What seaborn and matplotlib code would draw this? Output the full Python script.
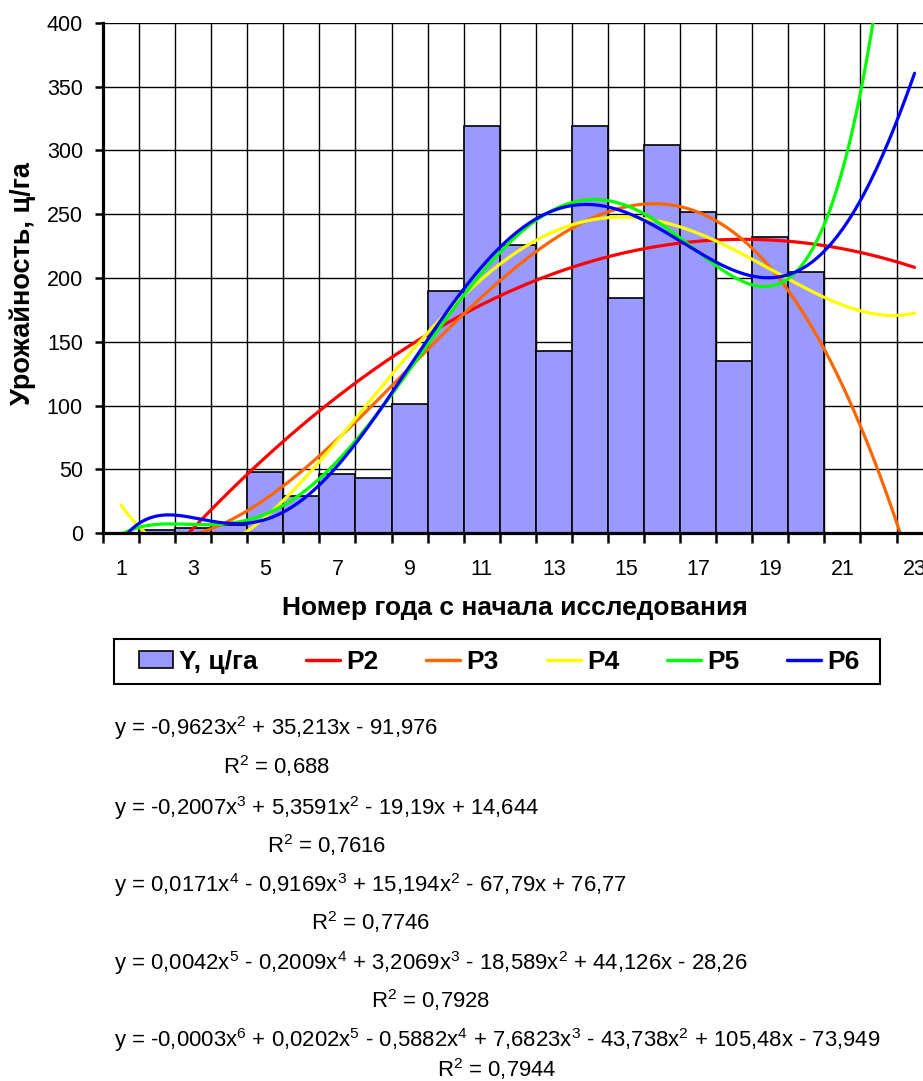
import numpy as np
import pandas as pd
import matplotlib
matplotlib.use("Agg")
import matplotlib.pyplot as plt
from matplotlib.patches import Patch, Rectangle
from matplotlib.lines import Line2D
import seaborn as sns

# ---- data ----
years = [1, 2, 3, 4, 5, 6, 7, 8, 9, 10, 11, 12, 13, 14, 15, 16, 17, 18, 19, 20]
yield_cga = [0, 2, 4, 6, 48, 29, 46, 43, 101, 190, 319, 226, 143, 319, 184, 304, 252, 135, 232, 205]
degrees = [2, 3, 4, 5, 6]
trend_names = ["P2", "P3", "P4", "P5", "P6"]
trend_colors = ["#FF0000", "#FF6600", "#FFFF00", "#00FF00", "#0000FF"]
forecast_end = 23
x_ticklabels = ["1", "3", "5", "7", "9", "11", "13", "15", "17", "19", "21", "23"]
y_ticks = [0, 50, 100, 150, 200, 250, 300, 350, 400]
equations = [
    "y = -0,9623x$^{2}$ + 35,213x - 91,976",
    "y = -0,2007x$^{3}$ + 5,3591x$^{2}$ - 19,19x + 14,644",
    "y = 0,0171x$^{4}$ - 0,9169x$^{3}$ + 15,194x$^{2}$ - 67,79x + 76,77",
    "y = 0,0042x$^{5}$ - 0,2009x$^{4}$ + 3,2069x$^{3}$ - 18,589x$^{2}$ + 44,126x - 28,26",
    "y = -0,0003x$^{6}$ + 0,0202x$^{5}$ - 0,5882x$^{4}$ + 7,6823x$^{3}$ - 43,738x$^{2}$ + 105,48x - 73,949",
]
r2_texts = ["R$^{2}$ = 0,688", "R$^{2}$ = 0,7616", "R$^{2}$ = 0,7746", "R$^{2}$ = 0,7928", "R$^{2}$ = 0,7944"]
bar_label = "Y, ц/га"
xlabel = "Номер года с начала исследования"
ylabel = "Урожайность, ц/га"

# ---- style ----
sns.set_theme(style="white")
plt.rcParams["font.family"] = ["Liberation Sans", "DejaVu Sans"]
plt.rcParams["text.color"] = "black"
plt.rcParams["axes.labelcolor"] = "black"
plt.rcParams["mathtext.fontset"] = "custom"
plt.rcParams["mathtext.rm"] = "Liberation Sans"
plt.rcParams["mathtext.it"] = "Liberation Sans"
plt.rcParams["mathtext.bf"] = "Liberation Sans:bold"
plt.rcParams["mathtext.default"] = "regular"

W, H = 923, 1081
fig = plt.figure(figsize=(W / 100, H / 100), dpi=100)
fig.patch.set_facecolor("white")

def fx(px):
    return px / W

def fy(py):
    return 1 - py / H

left_px, right_px, top_px, bottom_px = 103, 103 + 23 * 36.07, 23, 533
ax = fig.add_axes([fx(left_px), fy(bottom_px), (right_px - left_px) / W, (bottom_px - top_px) / H])
ax.set_facecolor("white")

df = pd.DataFrame({"year": years, "y": yield_cga})
sns.barplot(data=df, x="year", y="y", native_scale=True, width=1.0, color="#9999FF",
            saturation=1, edgecolor="black", linewidth=1.2, errorbar=None, ax=ax, zorder=2)

xs = np.linspace(1, forecast_end, 400)
for deg, name, col in zip(degrees, trend_names, trend_colors):
    coef = np.polyfit(np.array(years, float), np.array(yield_cga, float), deg)
    ys = np.polyval(coef, xs)
    sns.lineplot(x=xs, y=ys, color=col, linewidth=2.3, ax=ax, legend=False, sort=False, zorder=3)

ax.set_xlim(0.5, 23.5)
ax.set_ylim(0, 400)

# grid: vertical at category boundaries, horizontal every 50
ax.set_xticks(np.arange(0.5, 23.6, 1.0))
ax.set_xticklabels([])
ax.set_xticks([int(t) for t in x_ticklabels], minor=True)
ax.set_xticklabels(x_ticklabels, minor=True)
ax.set_yticks(y_ticks)
ax.set_yticklabels([str(t) for t in y_ticks])
ax.grid(True, which="major", color="black", linewidth=1.0, zorder=0)
ax.set_axisbelow(True)
ax.tick_params(axis="x", which="major", direction="out", length=7, width=1.8, color="black",
               bottom=True)
ax.tick_params(axis="x", which="minor", length=0, labelsize=15.5, pad=19, labelcolor="black")
ax.tick_params(axis="y", which="major", direction="out", length=6, width=1.8, color="black",
               left=True, labelsize=15.5, pad=8.5, labelcolor="black")
for s in ["top", "right"]:
    ax.spines[s].set_visible(False)
for s in ["left", "bottom"]:
    ax.spines[s].set_color("black")
    ax.spines[s].set_linewidth(2.3)
    ax.spines[s].set_zorder(4)
ax.set_xlabel("")
ax.set_ylabel("")

fig.text(fx(515), fy(608), xlabel, ha="center", va="center", fontsize=19, fontweight="bold")
fig.text(fx(23), fy(284), ylabel, ha="center", va="center", rotation=90, fontsize=19.5,
         fontweight="bold")

# legend
handles = [Patch(facecolor="#9999FF", edgecolor="black", linewidth=1.2)]
handles += [Line2D([0], [0], color=c, linewidth=2.5) for c in trend_colors]
labels = [bar_label] + trend_names
leg = fig.legend(handles, labels, ncol=6, loc="center left",
                 bbox_to_anchor=(fx(139), fy(662)), frameon=False,
                 borderaxespad=0, borderpad=0, columnspacing=1.82,
                 handlelength=1.29, handleheight=0.6, handletextpad=0.23,
                 prop={"weight": "bold", "size": 19})
fig.add_artist(Rectangle((fx(114), fy(684)), (880 - 114) / W, (684 - 639) / H,
                         transform=fig.transFigure, fill=False, edgecolor="black",
                         linewidth=1.5))

# equations and R^2
eq_y = [728, 808, 885, 963, 1040]
r2_y = [766, 845, 922, 1000, 1069]
fig.canvas.draw()
renderer = fig.canvas.get_renderer()
for eq, r2, ey, ry in zip(equations, r2_texts, eq_y, r2_y):
    t = fig.text(fx(114), fy(ey), eq, ha="left", va="center", fontsize=15.9)
    bb = t.get_window_extent(renderer)
    cx = (bb.x0 + bb.x1) / 2 / W
    fig.text(cx, fy(ry), r2, ha="center", va="center", fontsize=15.9)

fig.savefig("out.png", dpi=100, facecolor="white")
